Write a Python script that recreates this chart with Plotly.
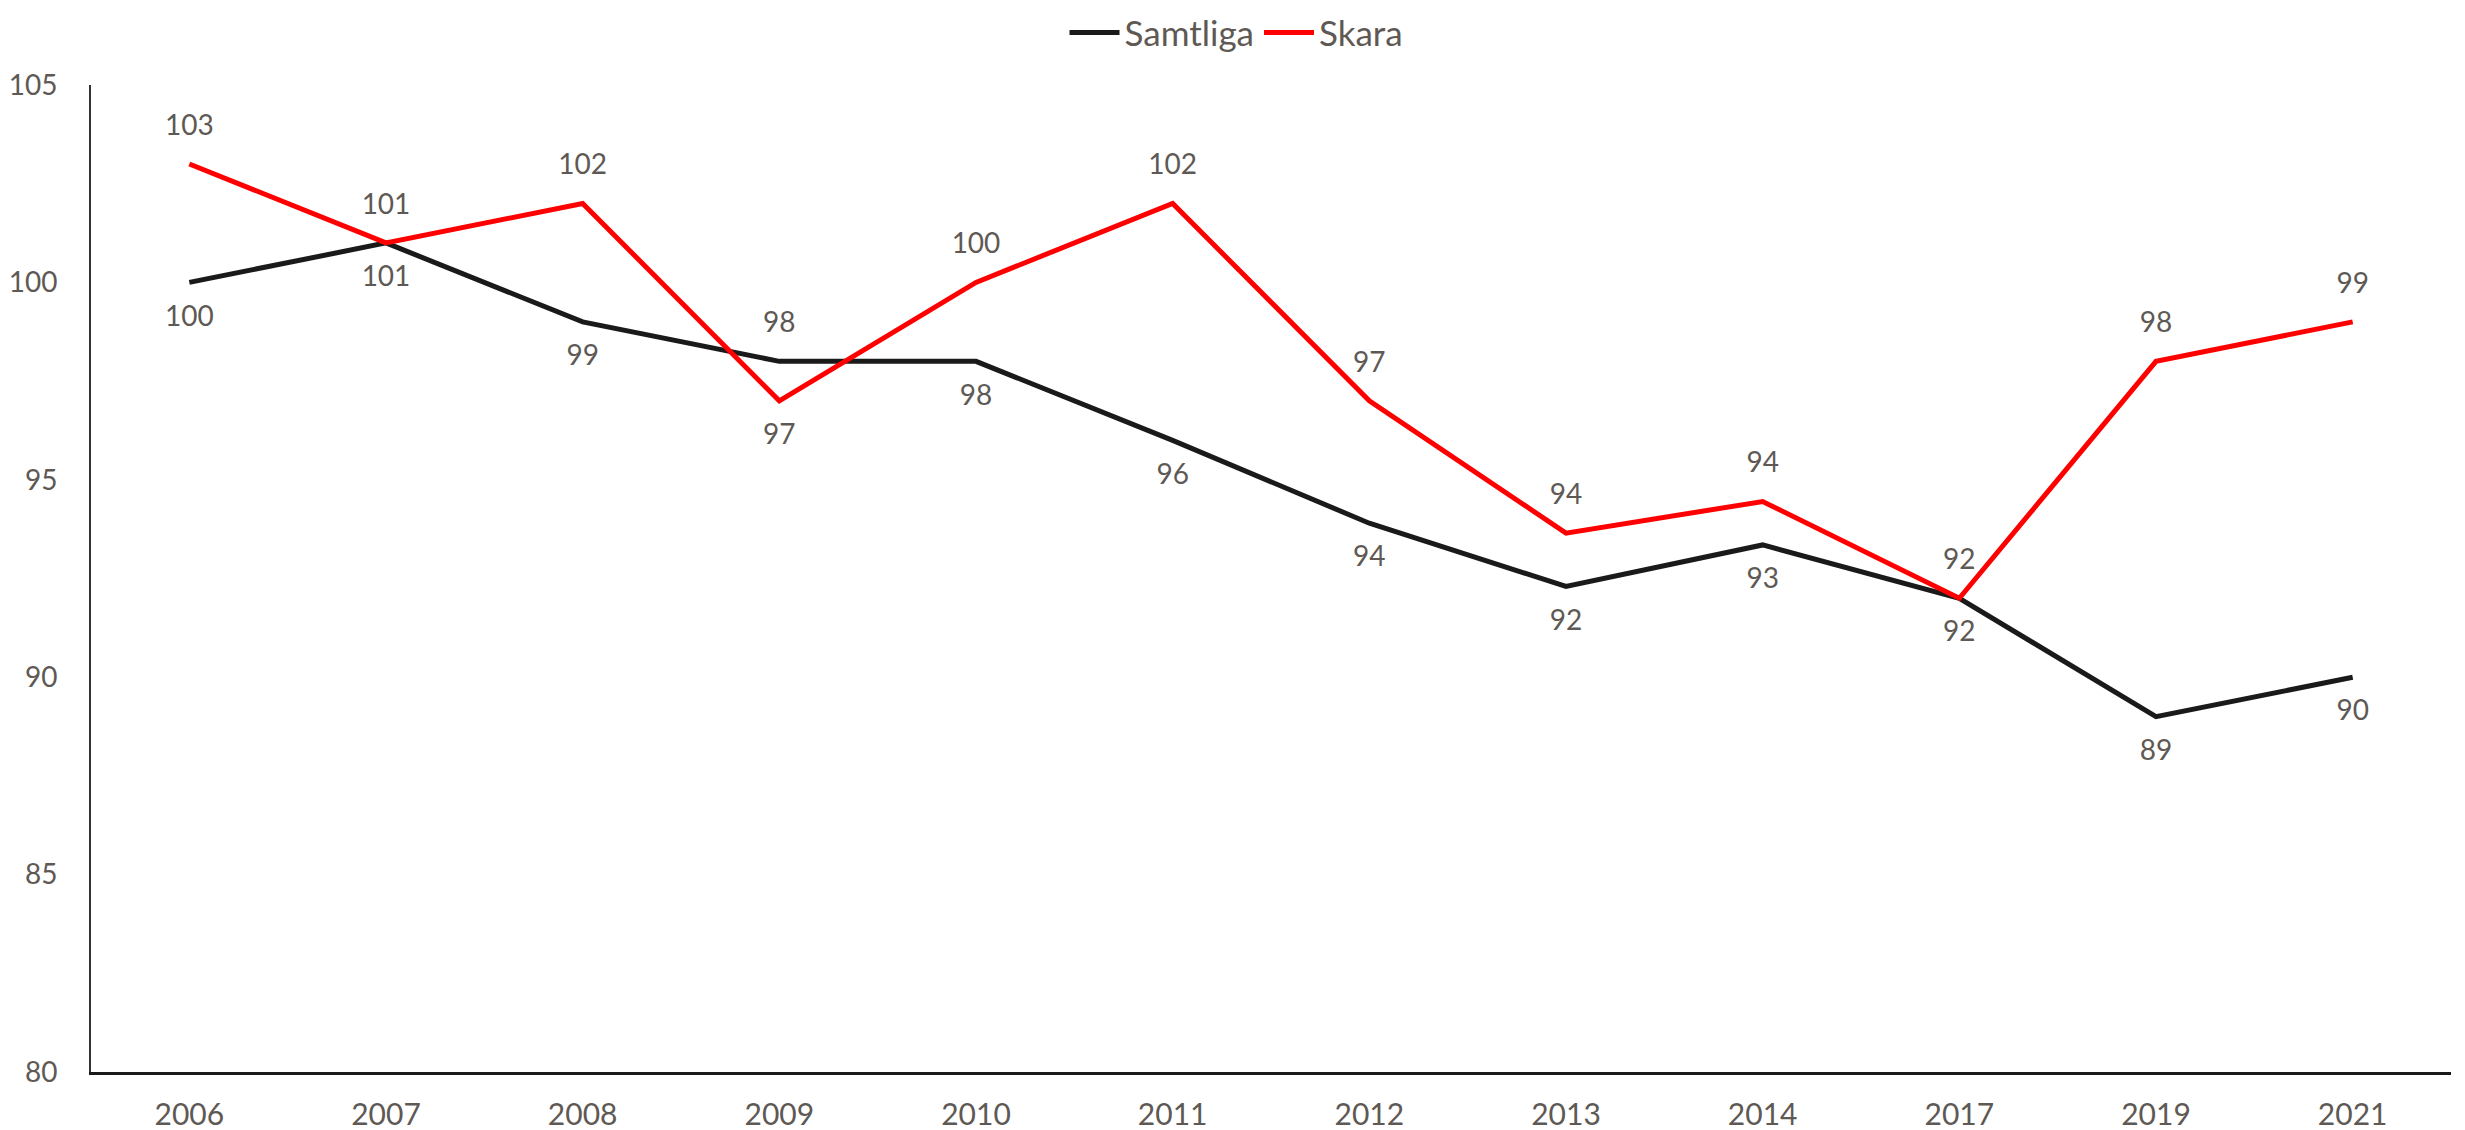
import plotly.graph_objects as go

years = ["2006", "2007", "2008", "2009", "2010", "2011", "2012", "2013", "2014", "2017", "2019", "2021"]
samtliga = [100, 101, 99, 98, 98, 96, 93.9, 92.3, 93.35, 92, 89, 90]
skara = [103, 101, 102, 97, 100, 102, 97, 93.65, 94.45, 92, 98, 99]
samtliga_pos = ["bottom center"] * 3 + ["top center"] + ["bottom center"] * 8
skara_pos = ["top center"] * 3 + ["bottom center"] + ["top center"] * 8

FONT = "Lato"
TXT = "#5e5954"

fig = go.Figure()
fig.add_trace(go.Scatter(
    x=years, y=samtliga, name="Samtliga", mode="lines+markers+text",
    line=dict(color="#1a1a1a", width=5),
    marker=dict(size=34, color="rgba(0,0,0,0)"),
    text=[f"{v:.0f}" for v in samtliga], textposition=samtliga_pos,
    textfont=dict(family=FONT, size=28, color=TXT),
))
fig.add_trace(go.Scatter(
    x=years, y=skara, name="Skara", mode="lines+markers+text",
    line=dict(color="#ff0000", width=5),
    marker=dict(size=34, color="rgba(0,0,0,0)"),
    text=[f"{v:.0f}" for v in skara], textposition=skara_pos,
    textfont=dict(family=FONT, size=28, color=TXT),
))

fig.update_layout(
    width=2457, height=1122,
    margin=dict(l=83, r=14, t=77, b=58, autoexpand=False),
    paper_bgcolor="white", plot_bgcolor="white",
    font=dict(family=FONT, size=30, color=TXT),
    showlegend=True,
    legend=dict(orientation="h", xref="container", x=0.5, xanchor="center",
                yref="container", y=0.978, yanchor="middle",
                font=dict(family=FONT, size=35, color=TXT),
                itemwidth=50, tracegroupgap=0),
    xaxis=dict(type="category", range=[-0.5, 11.5], showgrid=False,
               showline=True, linecolor="#1a1a1a", linewidth=2.5,
               ticks="", ticklabelstandoff=14, zeroline=False, automargin=False,
               tickfont=dict(family=FONT, size=30, color=TXT)),
    yaxis=dict(range=[80, 105], dtick=5, showgrid=False,
               showline=True, linecolor="#333333", linewidth=2,
               ticks="", ticklabelstandoff=26, zeroline=False, automargin=False,
               tickfont=dict(family=FONT, size=28, color=TXT)),
)

fig.write_html("out.html")
